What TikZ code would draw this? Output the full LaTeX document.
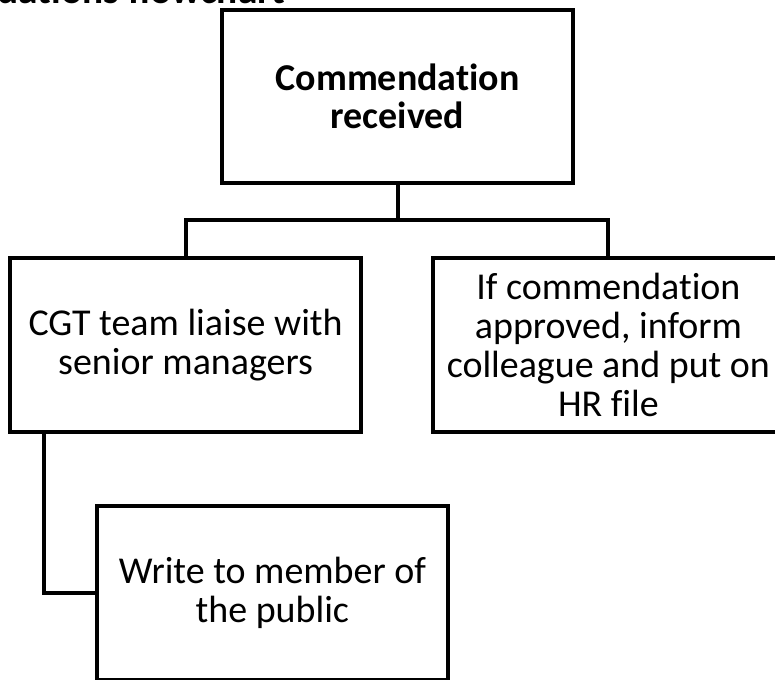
\documentclass[tikz,border=0pt]{standalone}
\usepackage{fontspec}
\setmainfont{Carlito}[Ligatures=NoCommon]
\usepackage{tikz}
\usetikzlibrary{positioning}

\begin{document}
\begin{tikzpicture}[
    box/.style={draw, line width=2.8pt, minimum width=8.78cm, minimum height=4.34cm, align=center, font=\fontsize{27}{27.6}\selectfont},
    link/.style={line width=2.8pt},
    heading/.style={font=\fontsize{28}{30}\selectfont\bfseries}
]
    \useasboundingbox (0,0) rectangle (19.375,-16.975);
    \clip (0,0) rectangle (19.375,-16.975);

    \node[heading, anchor=base east] (title) at (7.25,-0.1) {Commendations flowchart};

    \node[box, font=\fontsize{27}{27.6}\selectfont\bfseries] (received) at (9.94,-2.41) {Commendation\\received};
    \node[box] (liaise) at (4.64,-8.625) {CGT team liaise with\\senior managers};
    \node[box] (hrfile) at (15.21,-8.625) {If commendation\\approved, inform\\colleague and put on\\HR file};
    \node[box] (public) at (6.81,-14.825) {Write to member of\\the public};

    \coordinate (split) at (9.94,-5.5);

    \draw[link] (received) -- (split);
    \draw[link] (split) -| (liaise.north);
    \draw[link] (split) -| (hrfile.north);
    \draw[link] ([xshift=0.9cm]liaise.south west) |- (public.west);
\end{tikzpicture}
\end{document}
